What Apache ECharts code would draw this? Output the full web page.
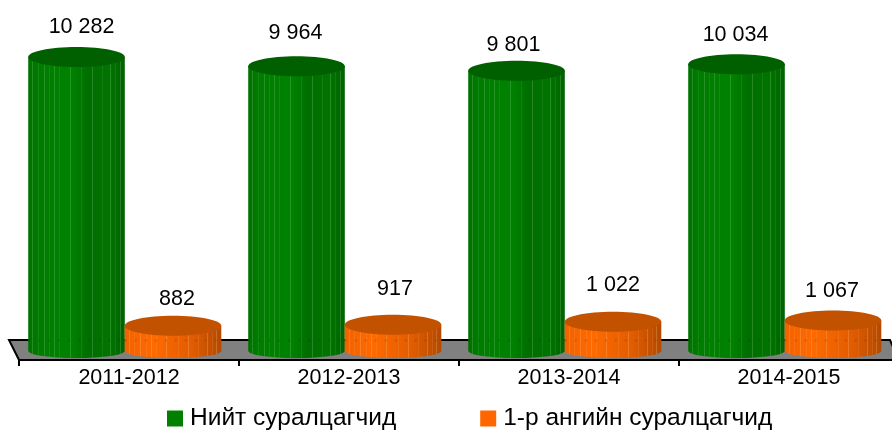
<!DOCTYPE html>
<html>
<head>
<meta charset="utf-8">
<style>html,body{margin:0;padding:0;background:#fff}#chart{width:892px;height:430px}</style>
<script src="https://cdn.jsdelivr.net/npm/echarts@6/dist/echarts.min.js"></script>
</head>
<body>
<div id="chart"></div>
<script>
// data
var years = ['2011-2012', '2012-2013', '2013-2014', '2014-2015'];
var totalStudents = [10282, 9964, 9801, 10034];
var firstGraders = [882, 917, 1022, 1067];

// labels were placed by hand in the original, so each one gets its own nudge
var totalNudge = [[5, -30], [-1, -33], [-3, -26], [-1, -29]];
var firstNudge = [[4, -27], [2, -36], [0, -37], [-1, -29]];

// where the facet lines sit across the cylinder, 0 = left edge, 1 = right edge
var facets = [0.04, 0.1, 0.16, 0.22, 0.27, 0.32, 0.43, 0.55, 0.66, 0.76, 0.85, 0.9, 0.95];

var font = '"Liberation Sans", Arial, sans-serif';

function fmt(v) {
  return String(v).replace(/\B(?=(\d{3})+$)/g, ' ');
}

// one cylinder, centred at an offset from the category centre
function cylinder(colors, offset, nudge) {
  return function (params, api) {
    var idx = api.value(0);
    var val = api.value(1);
    var top = api.coord([idx, val]);
    var base = api.coord([idx, 0]);
    var band = api.size([1, 0])[0];
    var rx = band * 0.2195;
    var cx = top[0] + band * offset;
    var ryTop = 10, ryBase = 7;
    var x0 = cx - rx, x1 = cx + rx;
    var kids = [];

    kids.push({
      type: 'path',
      shape: {
        pathData: 'M' + x0 + ' ' + top[1] + ' L' + x0 + ' ' + base[1] +
          ' A' + rx + ' ' + ryBase + ' 0 0 0 ' + x1 + ' ' + base[1] +
          ' L' + x1 + ' ' + top[1] + ' Z'
      },
      style: {
        fill: new echarts.graphic.LinearGradient(0, 0, 1, 0, colors.body)
      }
    });

    facets.forEach(function (f, i) {
      var u = f * 2 - 1;
      var h = Math.sqrt(1 - u * u);
      var sx = Math.round(x0 + f * 2 * rx) + 0.5;
      kids.push({
        type: 'line',
        shape: { x1: sx, y1: top[1] + ryTop * h, x2: sx, y2: base[1] + ryBase * h },
        style: { stroke: colors.facet, lineWidth: 1, opacity: i % 2 === 0 ? 0.26 : 0.13 }
      });
    });

    // floor edge showing faintly through the side
    kids.push({
      type: 'line',
      shape: { x1: x0, y1: 340.5, x2: x1, y2: 340.5 },
      style: { stroke: '#000', lineWidth: 2, opacity: 0.14, lineDash: [2, 8] }
    });

    kids.push({
      type: 'ellipse',
      shape: { cx: cx, cy: top[1], rx: rx, ry: ryTop },
      style: { fill: colors.top }
    });

    kids.push({
      type: 'text',
      style: {
        text: fmt(val),
        x: cx + nudge[idx][0],
        y: top[1] + nudge[idx][1],
        align: 'center',
        verticalAlign: 'middle',
        font: '21.5px ' + font,
        fill: '#000'
      }
    });

    return { type: 'group', children: kids };
  };
}

var green = {
  top: '#006000',
  facet: '#8fd08f',
  body: [
    { offset: 0, color: '#007000' },
    { offset: 0.1, color: '#007c00' },
    { offset: 0.45, color: '#008200' },
    { offset: 0.62, color: '#006e00' },
    { offset: 0.85, color: '#007400' },
    { offset: 1, color: '#006200' }
  ]
};
var orange = {
  top: '#c25100',
  facet: '#ffc48a',
  body: [
    { offset: 0, color: '#f26200' },
    { offset: 0.3, color: '#ff6a00' },
    { offset: 0.7, color: '#e25c00' },
    { offset: 1, color: '#b24a00' }
  ]
};

var chart = echarts.init(document.getElementById('chart'), null, { renderer: 'canvas' });

chart.setOption({
  animation: false,
  legend: {
    left: 167,
    top: 406,
    padding: 0,
    icon: 'rect',
    itemWidth: 16,
    itemHeight: 16,
    itemGap: 84,
    textStyle: { fontFamily: font, fontSize: 24.5, color: '#000', padding: [0, 0, 0, 2] },
    data: ['Нийт суралцагчид', '1-р ангийн суралцагчид']
  },
  grid: { left: 19, width: 880, top: 8, bottom: 79, outerBoundsMode: 'none' },
  xAxis: {
    type: 'category',
    data: years,
    offset: 9,
    axisLine: { onZero: false, lineStyle: { color: '#000', width: 2 } },
    axisTick: { show: true, length: 6, lineStyle: { color: '#000', width: 2 } },
    axisLabel: { fontFamily: font, fontSize: 21.5, color: '#000', margin: 7 }
  },
  yAxis: { type: 'value', min: 0, max: 12000, show: false },
  series: [
    {
      // the grey slab the cylinders stand on
      name: 'floor',
      type: 'custom',
      silent: true,
      z: 1,
      data: [[0, 0]],
      renderItem: function (params) {
        var c = params.coordSys;
        var yb = c.y + c.height + 9;
        return {
          type: 'polygon',
          shape: {
            points: [
              [c.x - 10, yb - 20],
              [c.x + c.width - 9, yb - 20],
              [c.x + c.width, yb],
              [c.x, yb]
            ]
          },
          style: { fill: '#808080', stroke: '#000', lineWidth: 2 }
        };
      }
    },
    {
      name: 'Нийт суралцагчид',
      type: 'custom',
      z: 3,
      itemStyle: { color: '#008000' },
      data: years.map(function (y, i) { return [i, totalStudents[i]]; }),
      renderItem: cylinder(green, -0.2386, totalNudge)
    },
    {
      name: '1-р ангийн суралцагчид',
      type: 'custom',
      z: 4,
      itemStyle: { color: '#ff6600' },
      data: years.map(function (y, i) { return [i, firstGraders[i]]; }),
      renderItem: cylinder(orange, 0.2, firstNudge)
    }
  ]
});
</script>
</body>
</html>
